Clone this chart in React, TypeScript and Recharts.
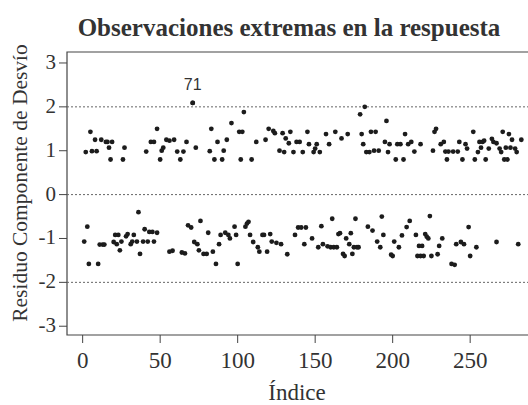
import {
  ScatterChart,
  Scatter,
  XAxis,
  YAxis,
  ReferenceLine,
  ReferenceArea,
  LabelList,
} from 'recharts';

// Residuals above zero (index, value)
const indiceSup = [
  2, 5, 6, 8, 9, 12, 15, 16, 17, 18, 19, 26, 27, 41, 44, 46, 48, 50, 51, 52,
  54, 56, 59, 61, 63, 65, 67, 71, 73, 82, 83, 85, 87, 90, 91, 93, 96, 101, 102, 103,
  104, 109, 112, 118, 120, 123, 124, 127, 129, 130, 131, 133, 134, 136, 138, 140, 142, 145, 146, 149,
  150, 151, 153, 157, 159, 163, 167, 171, 179, 180, 181, 182, 183, 185, 186, 188, 189, 191, 195, 196,
  197, 198, 202, 203, 205, 207, 208, 210, 212, 214, 218, 226, 227, 228, 231, 233, 234, 235, 236, 239,
  242, 243, 245, 247, 248, 252, 253, 255, 256, 257, 258, 259, 260, 262, 264, 265, 267, 269, 270, 271,
  272, 273, 274, 275, 276, 277, 279, 280, 283,
];
const residuoSup = [
  0.97, 1.43, 0.99, 1.25, 0.99, 1.25, 1.2, 1.2, 1.07, 0.8, 1.2, 0.8, 1.07, 0.98, 1.2, 1.2, 1.5, 0.8, 1.0, 1.07,
  1.25, 1.23, 1.25, 0.98, 0.8, 0.98, 1.2, 2.09, 1.07, 0.99, 1.5, 0.8, 1.2, 0.8, 1.0, 1.25, 1.63, 1.43, 0.8, 1.43,
  1.88, 0.8, 1.2, 1.25, 1.5, 1.45, 1.4, 1.0, 1.4, 0.97, 1.28, 1.17, 1.43, 0.97, 1.2, 1.2, 0.97, 1.43, 1.15, 0.97,
  1.05, 1.15, 0.97, 1.38, 1.15, 1.43, 1.28, 1.38, 1.83, 1.38, 1.15, 2.0, 0.97, 0.97, 1.43, 1.0, 1.43, 1.0, 1.2, 1.68,
  0.97, 1.15, 0.8, 1.15, 1.15, 0.8, 1.38, 1.15, 1.2, 0.98, 1.15, 1.0, 1.43, 1.5, 1.15, 1.2, 0.98, 0.8, 0.98, 0.98,
  0.98, 1.2, 0.8, 1.15, 1.05, 1.43, 0.8, 0.97, 1.2, 1.07, 1.2, 1.23, 0.8, 1.05, 1.27, 1.2, 1.17, 1.05, 0.97, 1.43,
  0.8, 1.07, 0.8, 1.38, 1.07, 1.25, 1.05, 0.97, 1.25,
];

// Residuals below zero (index, value)
const indiceInf = [
  1, 3, 4, 10, 11, 13, 14, 20, 21, 22, 23, 24, 25, 28, 29, 31, 32, 33, 35, 36,
  37, 39, 40, 42, 43, 45, 46, 48, 56, 58, 64, 66, 68, 70, 72, 74, 75, 76, 78, 80,
  81, 84, 86, 88, 89, 92, 94, 95, 98, 99, 100, 105, 106, 107, 108, 110, 113, 114, 116, 117,
  119, 121, 122, 125, 128, 132, 137, 139, 141, 143, 144, 148, 152, 154, 155, 158, 160, 161, 162, 164,
  165, 166, 168, 169, 170, 172, 173, 174, 175, 176, 177, 178, 184, 187, 190, 192, 193, 194, 199, 200,
  201, 204, 206, 209, 211, 215, 216, 217, 218, 219, 220, 221, 222, 223, 224, 225, 229, 230, 232, 238,
  240, 241, 244, 246, 249, 250, 254, 267, 281,
];
const residuoInf = [
  -1.07, -0.73, -1.58, -1.58, -1.14, -1.14, -1.14, -1.08, -0.92, -1.13, -0.92, -1.27, -1.07, -0.95, -0.9, -1.13, -1.07, -0.92, -1.07, -0.4,
  -1.35, -1.07, -0.79, -1.07, -0.85, -0.85, -1.07, -0.87, -1.3, -1.28, -1.32, -1.34, -0.7, -0.75, -1.08, -1.13, -1.27, -0.6, -1.35, -1.35,
  -0.87, -1.3, -1.58, -1.13, -0.92, -0.87, -0.92, -1.0, -0.73, -0.92, -1.58, -0.73, -0.66, -0.62, -0.92, -1.08, -1.2, -1.3, -0.92, -0.92,
  -1.3, -0.9, -1.07, -1.1, -1.13, -1.36, -0.92, -0.75, -0.75, -1.13, -0.75, -1.0, -1.2, -0.72, -1.13, -1.18, -1.2, -0.55, -1.2, -1.2,
  -0.9, -0.88, -1.35, -1.4, -1.0, -1.13, -0.88, -1.35, -1.2, -0.55, -1.2, -1.2, -0.73, -0.82, -1.07, -1.2, -0.5, -0.92, -1.37, -1.4,
  -1.07, -1.2, -0.93, -0.74, -0.6, -0.92, -1.4, -1.17, -1.4, -1.17, -1.4, -0.9, -0.96, -1.0, -0.49, -1.4, -1.36, -1.17, -1.0, -1.58,
  -1.6, -1.13, -1.08, -1.13, -0.74, -1.4, -1.2, -1.08, -1.13,
];

const destacados = [71];
const xTicks = [0, 50, 100, 150, 200, 250];
const yTicks = [-3, -2, -1, 0, 1, 2, 3];
const lineasRef = [-2, 0, 2];

const X_DOMAIN: [number, number] = [-10.1, 288.6];
const Y_DOMAIN: [number, number] = [-3.2, 3.25];

const serif = '"Liberation Serif", "Times New Roman", serif';
const ink = '#333';

const puntos = [
  ...indiceSup.map((x, i) => ({ x, y: residuoSup[i] })),
  ...indiceInf.map((x, i) => ({ x, y: residuoInf[i] })),
];
const etiquetados = puntos
  .filter((p) => destacados.includes(p.x) && p.y > 0)
  .map((p) => ({ ...p, label: String(p.x) }));

const Dot = (props: any) => (
  <circle cx={props.cx} cy={props.cy} r={2.4} fill="#1c1c1c" />
);

const renderXTick = (props: any) => (
  <text
    key={`xt-${props.payload.value}`}
    x={props.x}
    y={props.y + 23}
    textAnchor="middle"
    fontFamily={serif}
    fontSize={23}
    fill={ink}
  >
    {props.payload.value}
  </text>
);

const renderYTick = (props: any) => (
  <text
    key={`yt-${props.payload.value}`}
    x={props.x}
    y={props.y + 6}
    textAnchor="end"
    fontFamily={serif}
    fontSize={21}
    fill={ink}
  >
    {props.payload.value}
  </text>
);

export default function App() {
  return (
    <div
      style={{
        position: 'absolute',
        left: 0,
        top: 0,
        width: 528,
        height: 405,
        overflow: 'hidden',
        background: '#fff',
      }}
    >
      <ScatterChart
        width={540}
        height={405}
        margin={{ top: 52, right: 10, bottom: 0, left: 0 }}
        style={{ fontFamily: serif }}
      >
        <XAxis
          type="number"
          dataKey="x"
          domain={X_DOMAIN}
          ticks={xTicks}
          allowDataOverflow
          axisLine={false}
          tickSize={8}
          tickMargin={2}
          tickLine={{ stroke: '#444' }}
          tick={renderXTick}
          height={70}
        />
        <YAxis
          type="number"
          dataKey="y"
          domain={Y_DOMAIN}
          ticks={yTicks}
          allowDataOverflow
          axisLine={false}
          tickSize={8}
          tickMargin={3}
          tickLine={{ stroke: '#444' }}
          tick={renderYTick}
          width={67}
        />
        {lineasRef.map((v) => (
          <ReferenceLine
            key={v}
            y={v}
            stroke="#666"
            strokeDasharray="2 2"
            strokeWidth={1}
          />
        ))}
        <ReferenceArea
          x1={X_DOMAIN[0]}
          x2={X_DOMAIN[1]}
          y1={Y_DOMAIN[0]}
          y2={Y_DOMAIN[1]}
          fill="none"
          stroke="#444"
          strokeWidth={1.2}
          ifOverflow="visible"
        />
        <Scatter data={puntos} shape={Dot} isAnimationActive={false} />
        <Scatter data={etiquetados} shape={Dot} isAnimationActive={false}>
          <LabelList
            dataKey="label"
            position="top"
            offset={8}
            style={{
              fontSize: 16,
              fontFamily: '"Liberation Sans", Arial, sans-serif',
              fill: ink,
            }}
          />
        </Scatter>
      </ScatterChart>
      <svg
        width={528}
        height={405}
        style={{ position: 'absolute', left: 0, top: 0, pointerEvents: 'none' }}
      >
        <text
          x={289}
          y={36}
          textAnchor="middle"
          fontFamily={serif}
          fontWeight="bold"
          fontSize={25}
          fill={ink}
        >
          Observaciones extremas en la respuesta
        </text>
        <text
          x={297}
          y={400}
          textAnchor="middle"
          fontFamily={serif}
          fontSize={23}
          fill={ink}
        >
          Índice
        </text>
        <text
          transform="translate(27,183) rotate(-90)"
          textAnchor="middle"
          fontFamily={serif}
          fontSize={21.5}
          fill={ink}
        >
          Residuo Componente de Desvío
        </text>
      </svg>
    </div>
  );
}
